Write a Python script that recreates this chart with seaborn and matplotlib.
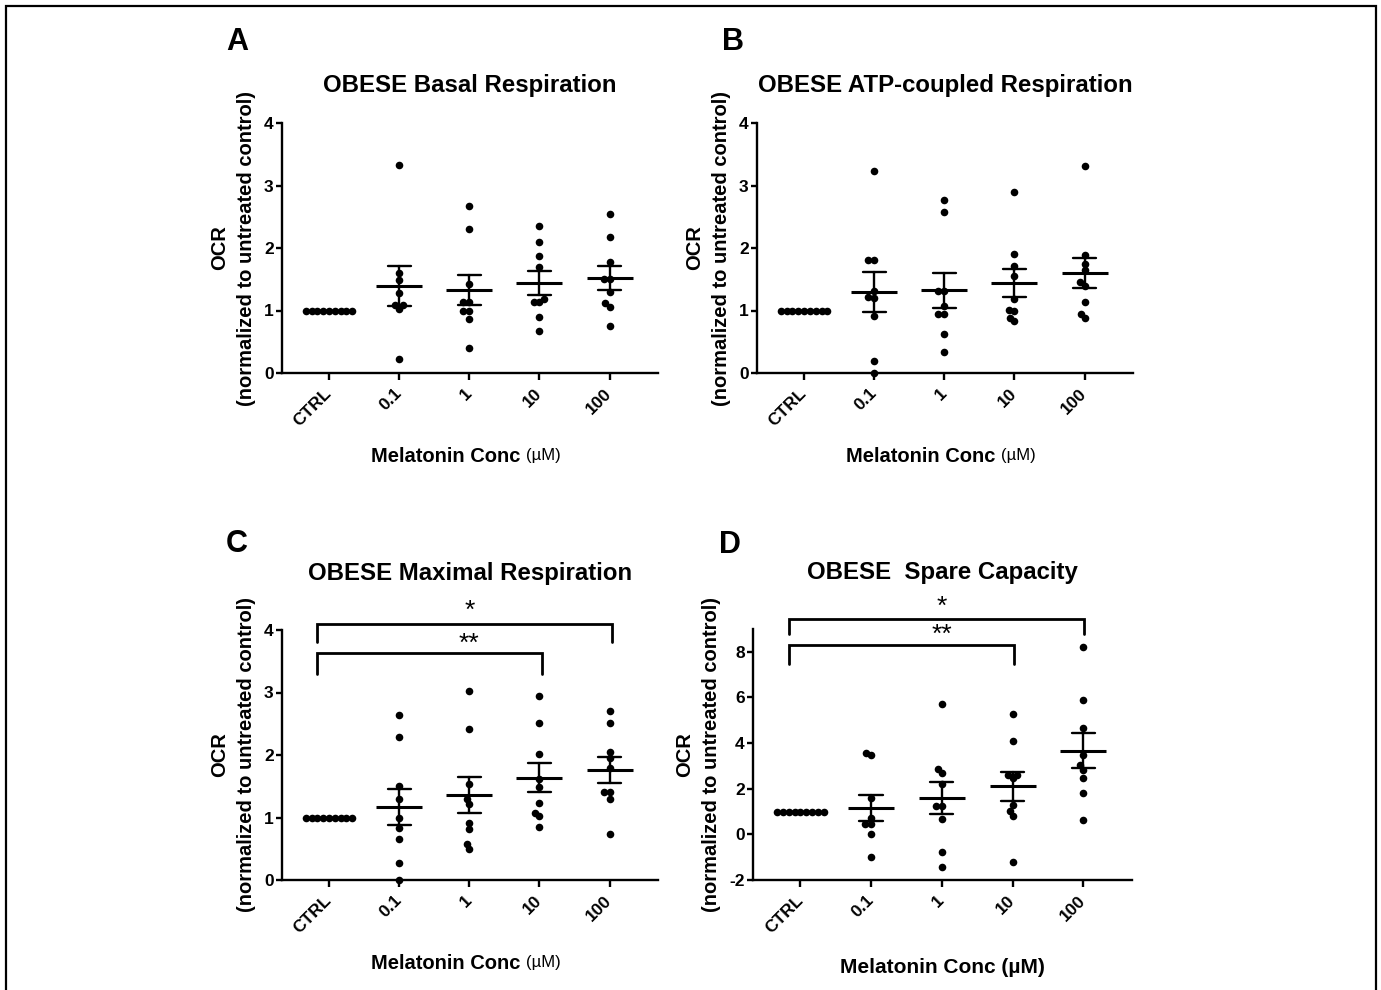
import numpy as np
import pandas as pd
import matplotlib
matplotlib.use("Agg")
import matplotlib.pyplot as plt
import seaborn as sns
from matplotlib.patches import Rectangle

# ---------------- data ----------------
categories = ["CTRL", "0.1", "1", "10", "100"]

ctrl_values = [1.0, 1.0, 1.0, 1.0, 1.0, 1.0, 1.0, 1.0, 1.0]

basal_01 = [3.33, 1.60, 1.49, 1.28, 1.09, 1.03, 1.09, 0.23]
basal_1 = [2.67, 2.31, 1.43, 1.13, 1.13, 1.00, 1.00, 0.87, 0.40]
basal_10 = [2.36, 2.09, 1.87, 1.69, 1.19, 1.13, 1.13, 0.89, 0.68]
basal_100 = [2.54, 2.17, 1.78, 1.50, 1.50, 1.29, 1.12, 1.06, 0.75]

atp_01 = [3.24, 1.81, 1.81, 1.32, 1.22, 1.20, 0.92, 0.20, 0.00]
atp_1 = [2.77, 2.57, 1.32, 1.32, 1.07, 0.94, 0.94, 0.62, 0.34]
atp_10 = [2.90, 1.91, 1.72, 1.56, 1.18, 1.00, 1.01, 0.83, 0.88]
atp_100 = [3.31, 1.89, 1.74, 1.65, 1.46, 1.40, 1.13, 0.95, 0.88]

max_01 = [2.64, 2.29, 1.50, 1.29, 1.00, 0.84, 0.66, 0.28, 0.00]
max_1 = [3.02, 2.42, 1.53, 1.29, 1.21, 0.92, 0.82, 0.57, 0.49]
max_10 = [2.94, 2.51, 2.02, 1.61, 1.49, 1.24, 1.08, 1.02, 0.85]
max_100 = [2.71, 2.52, 2.05, 1.96, 1.79, 1.41, 1.41, 1.29, 0.73]

spare_01 = [3.58, 3.46, 1.59, 0.72, 0.44, 0.44, 0.00, -0.99]
spare_1 = [5.72, 2.85, 2.67, 2.19, 1.24, 1.24, 0.66, -0.76, -1.42]
spare_10 = [5.26, 4.07, 2.61, 2.61, 2.48, 1.30, 1.01, 0.79, -1.21]
spare_100 = [8.20, 5.87, 4.66, 3.46, 3.02, 2.82, 2.48, 1.80, 0.63]

titles = ["OBESE Basal Respiration", "OBESE ATP-coupled Respiration",
          "OBESE Maximal Respiration", "OBESE  Spare Capacity"]
letters = ["A", "B", "C", "D"]
ylabel_text = "OCR\n(normalized to untreated control)"
xlabel_main = "Melatonin Conc"
xlabel_unit = "(\u00b5M)"
y_ticks_small = [0, 1, 2, 3, 4]
y_ticks_spare = [-2, 0, 2, 4, 6, 8]
sig_labels = ["*", "**"]

# ---------------- style ----------------
sns.set_style("ticks")
plt.rcParams["font.family"] = ["Liberation Sans", "DejaVu Sans"]
plt.rcParams["font.weight"] = "bold"
for key in ["text.color", "axes.labelcolor", "xtick.color", "ytick.color",
            "axes.edgecolor"]:
    plt.rcParams[key] = "black"

W, H = 1381, 990
fig = plt.figure(figsize=(W / 100, H / 100), dpi=100)


def px_axes(x0, y_top, x1, y_bot):
    return fig.add_axes([x0 / W, 1 - y_bot / H, (x1 - x0) / W, (y_bot - y_top) / H])


def make_df(groups):
    rows = []
    for cat, vals in zip(categories, groups):
        for v in vals:
            rows.append((cat, v))
    return pd.DataFrame(rows, columns=["conc", "ocr"])


def draw_panel(ax, groups, ylim, yticks, title, title_pad, unit_small=True):
    ax.set_xlim(-0.67, 4.69)
    ax.set_ylim(*ylim)
    df = make_df(groups)
    sns.swarmplot(data=df, x="conc", y="ocr", order=categories, color="black",
                  size=4.0, ax=ax)
    sns.pointplot(data=df, x="conc", y="ocr", order=categories, estimator="mean",
                  errorbar="se", capsize=0.33, color="black", marker="_",
                  linestyle="none", markersize=33, markeredgewidth=2.2,
                  err_kws={"linewidth": 1.7}, ax=ax)
    ax.set_xlim(-0.67, 4.69)
    ax.set_ylim(*ylim)
    ax.set_yticks(yticks)
    ax.set_yticklabels([str(t) for t in yticks], fontsize=12.5, fontweight="bold")
    ax.set_xticks(range(len(categories)))
    ax.set_xticklabels(categories, rotation=45, ha="right", va="center",
                       rotation_mode="anchor", fontsize=12.5, fontweight="bold")
    ax.tick_params(axis="x", length=5, width=1.7, pad=8)
    ax.tick_params(axis="y", length=4, width=1.7, pad=2)
    for s in ["top", "right"]:
        ax.spines[s].set_visible(False)
    for s in ["left", "bottom"]:
        ax.spines[s].set_linewidth(1.7)
    ax.set_title(title, fontsize=17.3, fontweight="bold", pad=title_pad)
    ax.set_ylabel(ylabel_text, fontsize=14.5, fontweight="bold", linespacing=1.5,
                  labelpad=6)
    if unit_small:
        ax.set_xlabel(xlabel_main, fontsize=14.5, fontweight="bold")
        ax.xaxis.set_label_coords(0.435, -0.295)
        ax.annotate(xlabel_unit, xy=(1, 0.0), xycoords=ax.xaxis.label,
                    xytext=(4, 2), textcoords="offset points", ha="left", va="bottom",
                    fontsize=12, fontweight="normal")
    else:
        ax.set_xlabel(xlabel_main + " " + xlabel_unit, fontsize=15, fontweight="bold")
        ax.xaxis.set_label_coords(0.5, -0.31)


def bracket(ax, x0, x1, y_low, y_high, label, y_text):
    ax.plot([x0, x0, x1, x1], [y_low, y_high, y_high, y_low], color="black",
            lw=2.0, clip_on=False, solid_joinstyle="miter")
    ax.text(2.0, y_text, label, ha="center", va="center", fontsize=19,
            fontweight="normal", clip_on=False)


axA = px_axes(282, 123, 658, 373)
axB = px_axes(757, 123, 1133, 373)
axC = px_axes(282, 630, 658, 880)
axD = px_axes(753, 629, 1132, 880)

draw_panel(axA, [ctrl_values, basal_01, basal_1, basal_10, basal_100], (0, 4),
           y_ticks_small, titles[0], 22)
draw_panel(axB, [ctrl_values, atp_01, atp_1, atp_10, atp_100], (0, 4),
           y_ticks_small, titles[1], 22)
draw_panel(axC, [ctrl_values, max_01, max_1, max_10, max_100], (0, 4),
           y_ticks_small, titles[2], 36)
draw_panel(axD, [ctrl_values, spare_01, spare_1, spare_10, spare_100], (-2, 9),
           y_ticks_spare, titles[3], 36, unit_small=False)

# significance brackets
bracket(axC, -0.17, 4.03, 3.81, 4.10, sig_labels[0], 4.30)
bracket(axC, -0.17, 3.03, 3.30, 3.63, sig_labels[1], 3.78)
bracket(axD, -0.16, 4.01, 8.80, 9.46, sig_labels[0], 9.95)
bracket(axD, -0.16, 3.02, 7.45, 8.28, sig_labels[1], 8.75)

# panel letters
for letter, (x, y) in zip(letters, [(226, 50), (722, 50), (226, 552), (719, 553)]):
    fig.text(x / W, 1 - y / H, letter, fontsize=22, fontweight="bold",
             ha="left", va="baseline")

# outer frame
fig.add_artist(Rectangle((5.5 / W, -0.02), (1376 - 5.5) / W, 1.02 - 6 / H,
                         transform=fig.transFigure, fill=False, lw=1.6,
                         edgecolor="black", clip_on=False))

# resolve swarm positions, then enlarge dots (overlapping like the original)
fig.canvas.draw()
for ax in [axA, axB, axC, axD]:
    for coll in ax.collections:
        if "draw" in coll.__dict__:
            del coll.draw
        coll.set_sizes([30])
        coll.set_clip_on(False)

fig.savefig("out.png", dpi=100)
